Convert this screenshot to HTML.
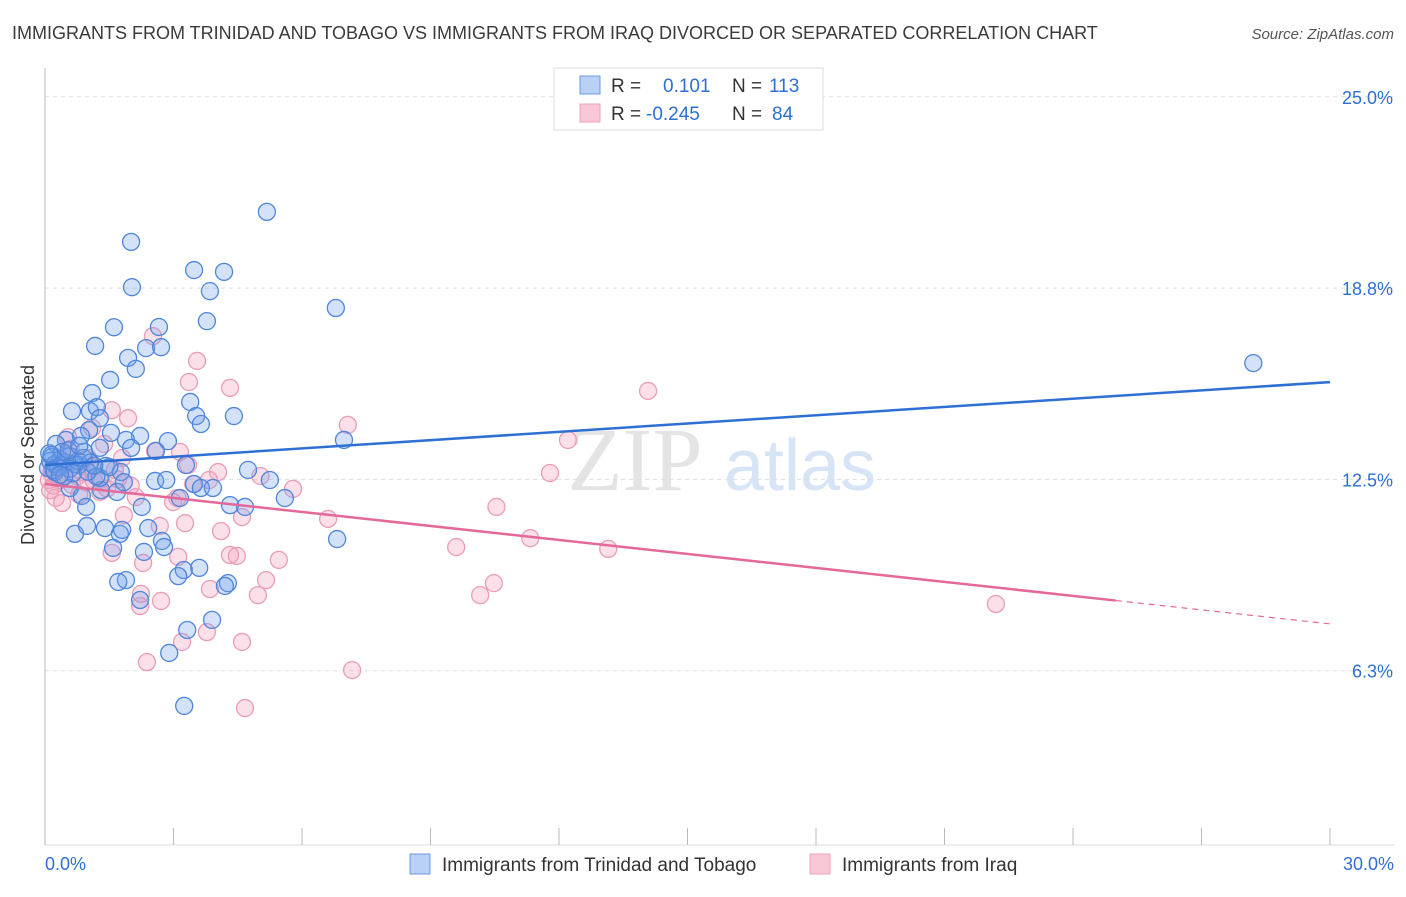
<!DOCTYPE html>
<html><head><meta charset="utf-8"><style>
body{margin:0;background:#fff;font-family:"Liberation Sans",sans-serif;}
#c{position:relative;width:1406px;height:892px;}
</style></head><body>
<div id="c">
<svg id="s" width="1406" height="892" xmlns="http://www.w3.org/2000/svg">
<text x="12" y="39" font-size="18" fill="#3a3a3a">IMMIGRANTS FROM TRINIDAD AND TOBAGO VS IMMIGRANTS FROM IRAQ DIVORCED OR SEPARATED CORRELATION CHART</text>
<text x="1394" y="39" font-size="15" fill="#555" text-anchor="end" font-style="italic">Source: ZipAtlas.com</text>
<text x="635" y="490" font-size="90" fill="#e4e4e4" font-family="Liberation Serif" text-anchor="middle">ZIP</text>
<text x="800" y="490" font-size="72" fill="#d6e4f5" text-anchor="middle">atlas</text>
<text transform="translate(34,455) rotate(-90)" font-size="18" fill="#333" text-anchor="middle">Divorced or Separated</text>
<g id="grid"></g><g id="pts"></g><g id="trend"></g>
<g>
<rect x="554" y="68" width="269" height="62" fill="#fff" stroke="#ddd"/>
<rect x="580" y="76" width="20" height="18" fill="#b9d1f5" stroke="#6d9ae0"/>
<rect x="580" y="104" width="20" height="18" fill="#f9c8d7" stroke="#eba1bb"/>
<text x="611" y="92" font-size="19" fill="#333">R = </text><text x="663" y="92" font-size="19" fill="#2e6fd4">0.101</text>
<text x="732" y="92" font-size="19" fill="#333">N = </text><text x="769" y="92" font-size="19" fill="#2e6fd4">113</text>
<text x="611" y="120" font-size="19" fill="#333">R = </text><text x="646" y="120" font-size="19" fill="#2e6fd4">-0.245</text>
<text x="732" y="120" font-size="19" fill="#333">N = </text><text x="772" y="120" font-size="19" fill="#2e6fd4">84</text>
</g>
<g>
<rect x="410" y="854" width="20" height="20" fill="#b9d1f5" stroke="#6d9ae0"/>
<text x="442" y="871" font-size="19" fill="#333">Immigrants from Trinidad and Tobago</text>
<rect x="810" y="854" width="20" height="20" fill="#f9c8d7" stroke="#eba1bb"/>
<text x="842" y="871" font-size="19" fill="#333">Immigrants from Iraq</text>
</g>
<text x="45" y="870" font-size="18" fill="#2e6fd4">0.0%</text>
<text x="1394" y="870" font-size="18" fill="#2e6fd4" text-anchor="end">30.0%</text>
</svg></div>
<script>
const yTicks=[25,18.75,12.5,6.25];
const yTickLabels=["25.0%","18.8%","12.5%","6.3%"];
const blueX=[5.18,2.01,3.48,4.18,2.03,3.85,6.79,1.61,2.66,3.78,1.17,1.94,2.36,2.71,2.12,1.52,1.10,3.39,4.41,3.53,3.64,0.63,1.05,1.21,1.28,28.21,6.98,2.22,1.89,1.54,1.03,0.84,0.49,0.26,2.87,2.59,2.01,1.28,0.91,0.58,0.16,0.40,0.79,0.07,0.23,3.29,1.42,1.77,4.74,5.25,2.57,2.83,3.48,3.64,3.92,5.60,0.58,1.31,1.68,1.84,1.28,0.86,0.96,3.15,4.32,4.67,2.26,0.70,0.98,1.40,1.75,2.41,1.80,6.82,1.59,2.31,2.73,2.78,3.60,3.24,3.11,1.89,1.71,4.27,4.20,2.22,3.90,3.32,2.90,3.25,0.12,0.23,0.35,0.47,0.70,0.77,1.05,0.58,0.30,0.15,0.9,1.2,0.4,0.65,1.5,0.2,0.55,1.0,0.1,0.45,0.8,1.15,0.35];
const blueY=[21.24,20.26,19.34,19.28,18.78,18.65,18.10,17.47,17.48,17.67,16.86,16.47,16.79,16.82,16.11,15.75,15.32,15.03,14.57,14.57,14.31,14.73,14.73,14.86,14.50,16.30,13.79,13.92,13.79,14.02,14.11,13.92,13.79,13.66,13.75,13.43,13.53,13.53,13.40,13.26,13.23,12.97,12.97,12.87,12.74,12.97,12.94,12.74,12.81,12.48,12.45,12.48,12.35,12.22,12.22,11.89,12.22,12.15,12.09,12.41,12.55,11.96,11.60,11.89,11.66,11.60,11.60,10.72,10.98,10.91,10.72,10.91,10.85,10.55,10.26,10.13,10.49,10.29,9.61,9.54,9.34,9.21,9.15,9.11,9.02,8.56,7.91,7.58,6.83,5.10,13.1,13.0,13.15,13.05,13.0,13.1,13.05,12.85,12.9,13.3,13.2,12.6,13.4,12.7,12.9,12.8,13.45,12.75,13.35,12.6,13.6,12.95,12.65];
const pinkX=[2.52,3.55,3.36,4.32,14.08,1.94,1.56,7.07,12.21,1.10,0.54,2.57,3.15,1.38,1.80,1.00,0.44,0.16,0.12,0.35,3.34,4.04,5.03,11.79,3.83,3.46,1.14,1.28,5.79,3.09,2.99,2.12,10.54,0.40,1.84,3.27,4.60,6.61,2.68,4.11,11.33,9.60,13.15,1.56,2.29,3.11,4.32,4.48,5.46,10.48,5.16,2.24,10.16,4.97,3.85,2.71,2.22,22.20,3.78,3.20,4.60,2.38,7.17,4.67,0.09,0.28,0.63,0.86,1.28,1.63,0.51,0.2,0.75,1.1,0.3,1.45,0.6,0.95,0.15,1.7,0.4,0.8,2.0,0.25];
const pinkY=[17.18,16.37,15.68,15.49,15.39,14.50,14.76,14.28,13.79,14.18,13.88,13.43,13.40,13.66,13.20,13.20,12.97,12.81,12.15,12.48,12.97,12.74,12.61,12.71,12.48,12.35,12.45,12.09,12.19,11.89,11.76,11.92,11.60,11.73,11.33,11.07,11.27,11.21,10.98,10.81,10.58,10.29,10.23,10.10,9.77,9.97,10.03,10.00,9.87,9.11,9.21,8.76,8.72,8.72,8.92,8.53,8.36,8.43,7.51,7.19,7.19,6.53,6.27,5.03,12.48,12.55,12.32,12.74,12.48,12.81,13.3,12.3,12.6,12.9,13.0,12.2,13.5,12.4,12.7,12.5,12.9,12.0,12.3,11.9];
const blueTrend=[12.97,15.68];
const pinkTrend=[12.35,7.78];
const pinkSolidEnd=25;
const X=v=>45+v/30*1285, Y=v=>862-v/6.25*191.3;
const NS="http://www.w3.org/2000/svg";
function mk(tag,attrs,parent){const e=document.createElementNS(NS,tag);for(const k in attrs)e.setAttribute(k,attrs[k]);parent.appendChild(e);return e;}
const grid=document.getElementById('grid');
yTicks.forEach((t,i)=>{
 const l=mk('line',{x1:45,x2:1394,y1:Y(t),y2:Y(t),stroke:'#ddd','stroke-dasharray':'4,4'},grid);
 
 
 const tx=mk('text',{x:1393,y:Y(t)+7,'font-size':18,fill:'#2e6fd4','text-anchor':'end'},grid);
 tx.textContent=yTickLabels[i];
 
 
});
const ax=mk('line',{x1:45,x2:45,y1:68,y2:845,stroke:'#bbb'},grid);


const bx=mk('line',{x1:45,x2:1394,y1:845,y2:845,stroke:'#ddd'},grid);


for(let i=0;i<=10;i++){
 const t=mk('line',{x1:X(i*3),x2:X(i*3),y1:828,y2:845,stroke:'#bbb'},grid);
 
 
}
const pts=document.getElementById('pts');
pinkX.forEach((x,i)=>{
 const c=mk('circle',{cx:X(x),cy:Y(pinkY[i]),r:8.5,fill:'rgba(244,160,188,0.32)',stroke:'#eb9cb8','stroke-width':1.3},pts);
 
 
});
blueX.forEach((x,i)=>{
 const c=mk('circle',{cx:X(x),cy:Y(blueY[i]),r:8.5,fill:'rgba(110,160,235,0.3)',stroke:'#4f86da','stroke-width':1.3},pts);
 
 
});
const tr=document.getElementById('trend');
const bt=mk('line',{x1:X(0),y1:Y(blueTrend[0]),x2:X(30),y2:Y(blueTrend[1]),stroke:'#2e6fd4','stroke-width':2.5},tr);


const py=x=>pinkTrend[0]+(pinkTrend[1]-pinkTrend[0])*x/30;
const pt=mk('line',{x1:X(0),y1:Y(pinkTrend[0]),x2:X(pinkSolidEnd),y2:Y(py(pinkSolidEnd)),stroke:'#e4689a','stroke-width':2.5},tr);


const pd=mk('line',{x1:X(pinkSolidEnd),y1:Y(py(pinkSolidEnd)),x2:X(30),y2:Y(pinkTrend[1]),stroke:'#e4689a','stroke-width':1.2,'stroke-dasharray':'6,5'},tr);


</script>
</body></html>
